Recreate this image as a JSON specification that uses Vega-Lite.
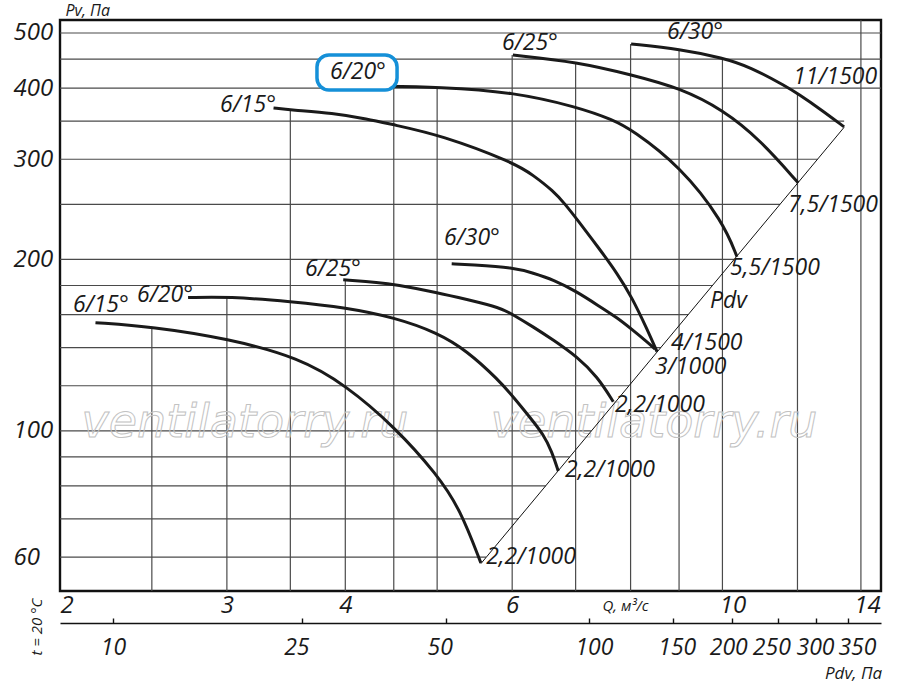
{
  "$schema": "https://vega.github.io/schema/vega-lite/v6.json",
  "width": 821,
  "height": 571,
  "autosize": {"type": "none"},
  "padding": {"left": 60, "top": 20, "right": 19, "bottom": 92},
  "background": "white",
  "config": {
    "view": {"stroke": "#111111", "strokeWidth": 2.4},
    "font": "Open Sans",
    "axis": {
      "grid": false, "ticks": false, "domain": false,
      "labelFont": "Open Sans", "labelFontStyle": "italic", "labelFontSize": 24,
      "labelColor": "#1a1a1a", "labelOverlap": false, "labelBound": false,
      "titleFont": "Open Sans", "titleFontStyle": "italic", "titleFontWeight": "normal",
      "titleColor": "#1a1a1a"
    },
    "text": {"font": "Open Sans", "fontStyle": "italic", "color": "#1a1a1a"}
  },
  "datasets": {
    "curves": [
      {"c": "lo15", "i": 0, "q": 2.18, "p": 154.9},
      {"c": "lo15", "i": 1, "q": 2.50, "p": 152.4},
      {"c": "lo15", "i": 2, "q": 3.01, "p": 145.2},
      {"c": "lo15", "i": 3, "q": 3.58, "p": 134.3},
      {"c": "lo15", "i": 4, "q": 4.00, "p": 120.4},
      {"c": "lo15", "i": 5, "q": 4.51, "p": 101.6},
      {"c": "lo15", "i": 6, "q": 5.00, "p": 83.8},
      {"c": "lo15", "i": 7, "q": 5.29, "p": 72.7},
      {"c": "lo15", "i": 8, "q": 5.56, "p": 58.6},
      {"c": "lo20", "i": 0, "q": 2.73, "p": 171.4},
      {"c": "lo20", "i": 1, "q": 3.01, "p": 172.1},
      {"c": "lo20", "i": 2, "q": 3.51, "p": 168.7},
      {"c": "lo20", "i": 3, "q": 4.01, "p": 164.6},
      {"c": "lo20", "i": 4, "q": 4.51, "p": 158.1},
      {"c": "lo20", "i": 5, "q": 5.00, "p": 148.8},
      {"c": "lo20", "i": 6, "q": 5.38, "p": 138.1},
      {"c": "lo20", "i": 7, "q": 5.80, "p": 123.0},
      {"c": "lo20", "i": 8, "q": 6.03, "p": 114.2},
      {"c": "lo20", "i": 9, "q": 6.27, "p": 105.4},
      {"c": "lo20", "i": 10, "q": 6.47, "p": 98.7},
      {"c": "lo20", "i": 11, "q": 6.61, "p": 91.8},
      {"c": "lo20", "i": 12, "q": 6.71, "p": 85.0},
      {"c": "lo25", "i": 0, "q": 3.98, "p": 184.3},
      {"c": "lo25", "i": 1, "q": 4.35, "p": 182.1},
      {"c": "lo25", "i": 2, "q": 4.51, "p": 180.7},
      {"c": "lo25", "i": 3, "q": 5.01, "p": 174.9},
      {"c": "lo25", "i": 4, "q": 5.38, "p": 170.0},
      {"c": "lo25", "i": 5, "q": 5.83, "p": 164.6},
      {"c": "lo25", "i": 6, "q": 6.01, "p": 160.0},
      {"c": "lo25", "i": 7, "q": 6.31, "p": 152.4},
      {"c": "lo25", "i": 8, "q": 6.63, "p": 144.4},
      {"c": "lo25", "i": 9, "q": 7.03, "p": 134.8},
      {"c": "lo25", "i": 10, "q": 7.38, "p": 124.5},
      {"c": "lo25", "i": 11, "q": 7.67, "p": 112.5},
      {"c": "lo30", "i": 0, "q": 5.18, "p": 196.6},
      {"c": "lo30", "i": 1, "q": 5.42, "p": 195.8},
      {"c": "lo30", "i": 2, "q": 6.03, "p": 193.5},
      {"c": "lo30", "i": 3, "q": 6.31, "p": 189.3},
      {"c": "lo30", "i": 4, "q": 6.63, "p": 184.3},
      {"c": "lo30", "i": 5, "q": 7.03, "p": 175.4},
      {"c": "lo30", "i": 6, "q": 7.43, "p": 165.1},
      {"c": "lo30", "i": 7, "q": 7.74, "p": 158.1},
      {"c": "lo30", "i": 8, "q": 8.03, "p": 150.6},
      {"c": "lo30", "i": 9, "q": 8.33, "p": 143.2},
      {"c": "lo30", "i": 10, "q": 8.49, "p": 139.2},
      {"c": "up15", "i": 0, "q": 3.36, "p": 369.2},
      {"c": "up15", "i": 1, "q": 3.51, "p": 366.2},
      {"c": "up15", "i": 2, "q": 3.88, "p": 361.8},
      {"c": "up15", "i": 3, "q": 4.22, "p": 353.2},
      {"c": "up15", "i": 4, "q": 4.50, "p": 344.7},
      {"c": "up15", "i": 5, "q": 5.04, "p": 331.0},
      {"c": "up15", "i": 6, "q": 6.03, "p": 295.7},
      {"c": "up15", "i": 7, "q": 6.31, "p": 281.5},
      {"c": "up15", "i": 8, "q": 6.63, "p": 263.9},
      {"c": "up15", "i": 9, "q": 6.82, "p": 250.4},
      {"c": "up15", "i": 10, "q": 7.03, "p": 234.8},
      {"c": "up15", "i": 11, "q": 7.43, "p": 207.9},
      {"c": "up15", "i": 12, "q": 7.74, "p": 189.3},
      {"c": "up15", "i": 13, "q": 8.03, "p": 171.4},
      {"c": "up15", "i": 14, "q": 8.33, "p": 150.6},
      {"c": "up15", "i": 15, "q": 8.53, "p": 137.8},
      {"c": "up20", "i": 0, "q": 4.30, "p": 403.5},
      {"c": "up20", "i": 1, "q": 5.04, "p": 401.9},
      {"c": "up20", "i": 2, "q": 6.01, "p": 393.9},
      {"c": "up20", "i": 3, "q": 7.03, "p": 370.7},
      {"c": "up20", "i": 4, "q": 7.67, "p": 351.8},
      {"c": "up20", "i": 5, "q": 8.03, "p": 337.8},
      {"c": "up20", "i": 6, "q": 9.02, "p": 292.0},
      {"c": "up20", "i": 7, "q": 10.02, "p": 232.9},
      {"c": "up20", "i": 8, "q": 10.36, "p": 202.2},
      {"c": "up25", "i": 0, "q": 6.01, "p": 457.4},
      {"c": "up25", "i": 1, "q": 7.03, "p": 444.7},
      {"c": "up25", "i": 2, "q": 8.03, "p": 421.9},
      {"c": "up25", "i": 3, "q": 9.02, "p": 400.3},
      {"c": "up25", "i": 4, "q": 10.02, "p": 366.2},
      {"c": "up25", "i": 5, "q": 10.96, "p": 324.5},
      {"c": "up25", "i": 6, "q": 12.02, "p": 272.7},
      {"c": "up30", "i": 0, "q": 8.01, "p": 478.2},
      {"c": "up30", "i": 1, "q": 9.02, "p": 468.6},
      {"c": "up30", "i": 2, "q": 10.02, "p": 452.0},
      {"c": "up30", "i": 3, "q": 10.70, "p": 435.8},
      {"c": "up30", "i": 4, "q": 11.70, "p": 401.9},
      {"c": "up30", "i": 5, "q": 12.02, "p": 390.7},
      {"c": "up30", "i": 6, "q": 12.68, "p": 367.7},
      {"c": "up30", "i": 7, "q": 13.44, "p": 342.0}
    ],
    "diag": [
      {"q": 5.56, "p": 58.4},
      {"q": 13.44, "p": 341.4}
    ],
    "hgrid": [
      {"p": 60, "q1": 2, "q2": 5.63}, {"p": 70, "q1": 2, "q2": 6.09},
      {"p": 80, "q1": 2, "q2": 6.51}, {"p": 90, "q1": 2, "q2": 6.90},
      {"p": 100, "q1": 2, "q2": 7.27}, {"p": 120, "q1": 2, "q2": 7.97},
      {"p": 140, "q1": 2, "q2": 8.61}, {"p": 160, "q1": 2, "q2": 9.20},
      {"p": 180, "q1": 2, "q2": 9.76}, {"p": 200, "q1": 2, "q2": 10.29},
      {"p": 250, "q1": 2, "q2": 11.50}, {"p": 300, "q1": 2, "q2": 12.60},
      {"p": 350, "q1": 2, "q2": 13.44}, {"p": 400, "q1": 2, "q2": 14.7},
      {"p": 450, "q1": 2, "q2": 14.7}, {"p": 500, "q1": 2, "q2": 14.7}
    ],
    "vgrid": [
      {"q": 2.5, "p1": 52.3, "p2": 152.4}, {"q": 3, "p1": 52.3, "p2": 172.5},
      {"q": 3.5, "p1": 52.3, "p2": 366}, {"q": 4, "p1": 52.3, "p2": 184.5},
      {"q": 4.5, "p1": 52.3, "p2": 403}, {"q": 5, "p1": 52.3, "p2": 402},
      {"q": 6, "p1": 52.3, "p2": 457.4}, {"q": 7, "p1": 52.3, "p2": 444.7},
      {"q": 8, "p1": 52.3, "p2": 478.2}, {"q": 9, "p1": 52.3, "p2": 468.6},
      {"q": 10, "p1": 52.3, "p2": 452}, {"q": 12, "p1": 52.3, "p2": 391},
      {"q": 14, "p1": 52.3, "p2": 527}
    ],
    "labels": [
      {"t": "6/15°", "q": 2.064, "p": 166.6},
      {"t": "6/20°", "q": 2.412, "p": 173.5},
      {"t": "6/25°", "q": 3.627, "p": 192.7},
      {"t": "6/30°", "q": 5.084, "p": 218.3},
      {"t": "6/15°", "q": 2.951, "p": 373.7},
      {"t": "6/20°", "q": 3.854, "p": 427.1},
      {"t": "6/25°", "q": 5.854, "p": 480.2},
      {"t": "6/30°", "q": 8.742, "p": 502.0},
      {"t": "2,2/1000", "q": 5.632, "p": 60.1},
      {"t": "2,2/1000", "q": 6.823, "p": 85.4},
      {"t": "2,2/1000", "q": 7.704, "p": 111.2},
      {"t": "3/1000", "q": 8.491, "p": 129.7},
      {"t": "4/1500", "q": 8.828, "p": 142.9},
      {"t": "Pdv", "q": 9.70, "p": 169.1},
      {"t": "5,5/1500", "q": 10.188, "p": 193.5},
      {"t": "7,5/1500", "q": 11.731, "p": 249.5},
      {"t": "11/1500", "q": 11.874, "p": 418.5}
    ],
    "mark": [
      {"t": "ventilatorry.ru", "q": 3.135, "p": 97.6},
      {"t": "ventilatorry.ru", "q": 8.47, "p": 97.6}
    ],
    "box": [
      {"q": 3.734, "q2": 4.536, "p": 457.4, "p2": 397.1}
    ],
    "temp": [
      {"t": "t = 20 °C", "q": 1.891, "p": 45.2}
    ],
    "pdv": [
      {"v": 10}, {"v": 25}, {"v": 50}, {"v": 100}, {"v": 150},
      {"v": 200}, {"v": 250}, {"v": 300}, {"v": 350}
    ]
  },
  "layer": [
    {
      "encoding": {
        "x": {
          "field": "q", "type": "quantitative",
          "scale": {"type": "log", "domain": [2, 14.7], "nice": false},
          "axis": {
            "values": [2, 3, 4, 6, 10, 14],
            "labelExpr": "format(datum.value, 'd')",
            "labelOffset": {
              "condition": [
                {"test": "datum.value === 10", "value": 10},
                {"test": "datum.value === 14", "value": 6}
              ],
              "value": 0
            },
            "labelPadding": 14, "labelBaseline": "middle",
            "title": "Q, м³/с", "titleX": 565, "titleY": 14, "titleAngle": 0,
            "titleAlign": "center", "titleBaseline": "middle", "titleFontSize": 15
          }
        },
        "y": {
          "field": "p", "type": "quantitative",
          "scale": {"type": "log", "domain": [52.3, 527], "nice": false},
          "axis": {
            "values": [60, 100, 200, 300, 400, 500],
            "labelExpr": "format(datum.value, 'd')",
            "labelAlign": "left", "labelPadding": 47,
            "title": "Pv, Па", "titleAngle": 0, "titleX": 5, "titleY": -10,
            "titleAlign": "left", "titleBaseline": "middle", "titleFontSize": 16
          }
        }
      },
      "layer": [
        {
          "data": {"name": "hgrid"},
          "mark": {"type": "rule", "color": "#4a4a4a", "strokeWidth": 1.2},
          "encoding": {
            "x": {"field": "q1", "type": "quantitative"},
            "x2": {"field": "q2"}
          }
        },
        {
          "data": {"name": "vgrid"},
          "mark": {"type": "rule", "color": "#4a4a4a", "strokeWidth": 1.2},
          "encoding": {
            "y": {"field": "p1", "type": "quantitative"},
            "y2": {"field": "p2"}
          }
        },
        {
          "data": {"name": "mark"},
          "mark": {
            "type": "text", "font": "DejaVu Sans", "fontStyle": "italic", "fontSize": 46,
            "align": "center", "baseline": "alphabetic",
            "fillOpacity": 0, "stroke": "#c2c2c2", "strokeWidth": 1
          },
          "encoding": {"text": {"field": "t"}}
        },
        {
          "data": {"name": "diag"},
          "mark": {"type": "line", "color": "#111111", "strokeWidth": 1},
          "encoding": {}
        },
        {
          "data": {"name": "curves"},
          "mark": {"type": "line", "interpolate": "basis", "color": "#1a1a1a", "strokeWidth": 3},
          "encoding": {
            "detail": {"field": "c"},
            "order": {"field": "i", "type": "quantitative"}
          }
        },
        {
          "data": {"name": "box"},
          "mark": {"type": "rect", "fill": "white", "stroke": "#1590d8", "strokeWidth": 3.5, "cornerRadius": 12},
          "encoding": {
            "x2": {"field": "q2"},
            "y2": {"field": "p2"}
          }
        },
        {
          "data": {"name": "labels"},
          "mark": {"type": "text", "align": "left", "baseline": "middle", "fontSize": 23},
          "encoding": {"text": {"field": "t"}}
        },
        {
          "data": {"name": "temp"},
          "mark": {"type": "text", "align": "center", "baseline": "middle", "fontSize": 15, "angle": 270},
          "encoding": {"text": {"field": "t"}}
        }
      ]
    },
    {
      "data": {"name": "pdv"},
      "mark": {"type": "point", "opacity": 0},
      "encoding": {
        "x": {
          "field": "v", "type": "quantitative",
          "scale": {"type": "log", "domain": [7.74, 410.8], "nice": false},
          "axis": {
            "orient": "bottom", "offset": 32,
            "values": [10, 25, 50, 100, 150, 200, 250, 300, 350],
            "labelExpr": "format(datum.value, 'd')",
            "labelFlush": false, "labelFontSize": 23,
            "labelOffset": {
              "condition": [
                {"test": "datum.value === 25", "value": -6},
                {"test": "datum.value === 50", "value": -6},
                {"test": "datum.value === 100", "value": 5},
                {"test": "datum.value === 150", "value": 4},
                {"test": "datum.value === 200", "value": -4},
                {"test": "datum.value === 250", "value": -7},
                {"test": "datum.value === 300", "value": -1},
                {"test": "datum.value === 350", "value": 9}
              ],
              "value": 0
            },
            "domain": true, "domainColor": "#111111", "domainWidth": 1.6,
            "ticks": true, "tickSize": -5, "tickColor": "#111111", "tickWidth": 1.4,
            "labelPadding": 29, "labelBaseline": "middle",
            "title": "Pdv, Па", "titleX": 793, "titleY": 50, "titleAngle": 0,
            "titleAlign": "center", "titleBaseline": "middle", "titleFontSize": 17
          }
        }
      }
    }
  ],
  "resolve": {"scale": {"x": "independent"}}
}
